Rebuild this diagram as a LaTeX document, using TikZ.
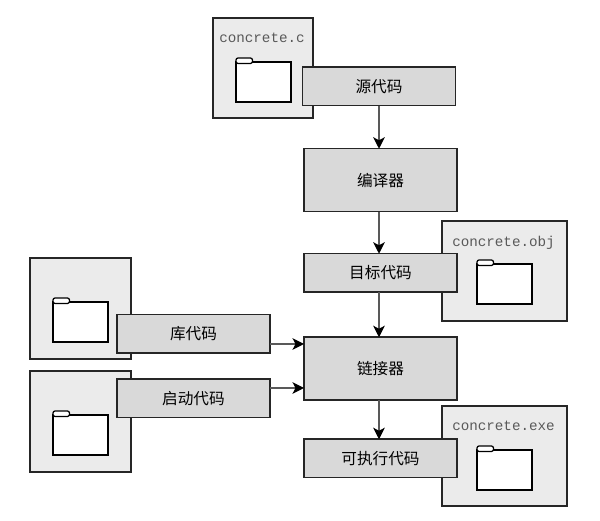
\documentclass[tikz,border=0pt]{standalone}
\usepackage{fontspec}
\setmonofont{Liberation Mono}
\newfontfamily\cjk{Noto Sans CJK SC}
\usepackage{xcolor}
\usepackage{tikz}
\usetikzlibrary{arrows.meta,positioning}

\definecolor{cardgray}{HTML}{EBEBEB}
\definecolor{boxgray}{HTML}{D9D9D9}
\definecolor{edgegray}{HTML}{262626}

\begin{document}
\begin{tikzpicture}[
  font=\cjk\fontsize{8.9pt}{10pt}\selectfont,
  card/.style={draw=edgegray, fill=cardgray, line width=0.75pt, anchor=north west,
    minimum width=2.5cm, minimum height=2cm, inner sep=0pt, outer sep=0pt},
  fname/.style={font=\ttfamily\fontsize{8.1pt}{10pt}\selectfont, text=black!65, inner sep=0pt},
  folder/.style={draw=black, fill=white, line width=0.75pt, minimum width=1.1cm,
    minimum height=0.8cm, inner sep=0pt, outer sep=0pt},
  box/.style={draw=edgegray, fill=boxgray, line width=0.85pt, align=center, inner sep=0pt,
    outer sep=0pt, minimum width=3.06cm, minimum height=0.77cm},
  tall/.style={box, minimum height=1.26cm},
  arr/.style={-{Stealth[length=0.23cm,width=0.23cm,inset=0.06cm,black]}, draw=black!65, line width=0.7pt}
]
\useasboundingbox (0,0) rectangle (12,10.42);

% files behind the boxes
\node[card, minimum width=2cm] (cardsrc) at (4.26,10.06) {};
\node[card] (cardobj) at (8.84,6.0) {};
\node[card] (cardexe) at (8.84,2.3) {};
\node[card, minimum width=2.02cm, minimum height=2.02cm] (cardlib) at (0.6,5.26) {};
\node[card, minimum width=2.02cm, minimum height=2.02cm] (cardrun) at (0.6,3.0) {};

\node[fname, below=0.3cm of cardsrc.north, xshift=-0.02cm] (namesrc) {concrete.c};
\node[fname, below=0.3cm of cardobj.north, xshift=-0.02cm] (nameobj) {concrete.obj};
\node[fname, below=0.3cm of cardexe.north, xshift=-0.02cm] (nameexe) {concrete.exe};

\node[folder, below right=0.88cm and 0.46cm of cardsrc.north west] (foldsrc) {};
\node[folder, below right=0.86cm and 0.7cm of cardobj.north west] (foldobj) {};
\node[folder, below right=0.88cm and 0.7cm of cardexe.north west] (foldexe) {};
\node[folder, below right=0.88cm and 0.46cm of cardlib.north west] (foldlib) {};
\node[folder, below right=0.88cm and 0.46cm of cardrun.north west] (foldrun) {};
\foreach \f in {foldsrc,foldobj,foldexe,foldlib,foldrun}
  \draw[draw=black, fill=white, line width=0.7pt, rounded corners=1.2pt]
    ([yshift=-0.03cm]\f.north west) rectangle ++(0.33,0.11);

% main column
\node[box] (src) at (7.58,8.69) {源代码};
\node[tall, below=0.86cm of src.south, xshift=0.03cm] (comp) {编译器};
\node[box, below=0.84cm of comp] (obj) {目标代码};
\node[tall, below=0.9cm of obj] (link) {链接器};
\node[box, below=0.78cm of link] (exe) {可执行代码};

\node[box] (lib) at (3.87,3.74) {库代码};
\node[box] (run) at (3.87,2.45) {启动代码};

\draw[arr] (src.south) -- (src.south |- comp.north);
\draw[arr] (src.south |- comp.south) -- (src.south |- obj.north);
\draw[arr] (src.south |- obj.south) -- (src.south |- link.north);
\draw[arr] (src.south |- link.south) -- (src.south |- exe.north);
\draw[arr] ([yshift=-0.2cm]lib.east) -- ([yshift=-0.2cm]lib.east -| link.west);
\draw[arr] ([yshift=0.21cm]run.east) -- ([yshift=0.21cm]run.east -| link.west);
\end{tikzpicture}
\end{document}
